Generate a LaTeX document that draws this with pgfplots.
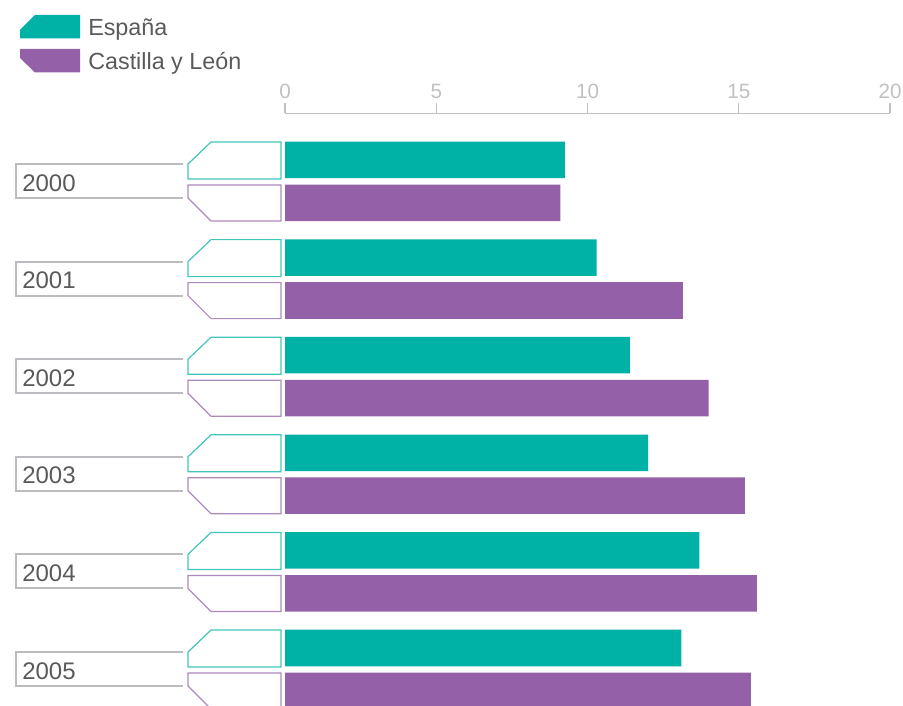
\documentclass[border=0pt]{standalone}
\usepackage{pgfplots}
\usepackage{pgfplotstable}
\pgfplotsset{compat=1.18}
\usepackage{fontspec}
\setmainfont{Liberation Sans}

\definecolor{espana}{RGB}{0,178,166}
\definecolor{cyl}{RGB}{148,97,168}
\definecolor{txt}{RGB}{90,90,90}
\definecolor{axisgray}{RGB}{192,192,192}
\definecolor{boxgray}{RGB}{188,188,192}

% group index, Espana, Castilla y Leon
\pgfplotstableread{
g espana cyl
0 9.25 9.1
1 10.3 13.15
2 11.4 14.0
3 12.0 15.2
4 13.7 15.6
5 13.1 15.4
}\datos

\begin{document}
\begin{tikzpicture}
% page is 903 x 706 px, 1px = 0.75pt
\useasboundingbox (0pt,0pt) rectangle (677.25pt,-529.5pt);
\clip (0pt,0pt) rectangle (677.25pt,-529.5pt);

\begin{axis}[
  at={(213.75pt,-84.975pt)}, anchor=north west,
  scale only axis,
  width=453.75pt, height=444.5pt,
  xmin=0, xmax=20,
  ymin=-5.374, ymax=0.698,
  axis x line=top,
  axis y line=none,
  axis line style={draw=axisgray, line width=1.1pt, -},
  xtick={0,5,10,15,20},
  ytick=\empty,
  tick align=outside,
  major tick length=7.5pt,
  tick style={draw=axisgray, line width=1.1pt},
  xticklabel style={font=\fontsize{15.5}{17}\selectfont, text=axisgray},
  /pgf/number format/assume math mode=true,
]
\addplot[xbar, fill=espana, draw=none, bar width=27.4pt, bar shift=16.1pt]
  table[x=espana, y expr=-\thisrow{g}] {\datos};
\addplot[xbar, fill=cyl, draw=none, bar width=27.4pt, bar shift=-16.1pt]
  table[x=cyl, y expr=-\thisrow{g}] {\datos};
\end{axis}

\begin{scope}[x=0.75pt,y=-0.75pt]
% year boxes and bar outlines
\foreach \i/\yr in {0/2000,1/2001,2/2002,3/2003,4/2004,5/2005} {
  \pgfmathsetmacro\c{181.5+97.6*\i}
  \draw[boxgray, line width=1.6pt] (183,\c-17.5) -- (16,\c-17.5) -- (16,\c+16.5) -- (183,\c+16.5);
  \node[anchor=base west, text=txt, font=\fontsize{18}{20}\selectfont, inner sep=0pt] at (22,\c+9.5) {\yr};
  \draw[espana!75, line width=0.9pt] (281,\c-39.5) -- (211,\c-39.5) -- (188,\c-17.5) -- (188,\c-2.5) -- (281,\c-2.5) -- cycle;
  \draw[cyl!75, line width=0.9pt] (281,\c+3.5) -- (188,\c+3.5) -- (188,\c+16.5) -- (211,\c+39.5) -- (281,\c+39.5) -- cycle;
}

% legend
\fill[espana] (80,15) -- (35,15) -- (20,30) -- (20,38.5) -- (80,38.5) -- cycle;
\fill[cyl] (80,49) -- (20,49) -- (20,58) -- (35,72.5) -- (80,72.5) -- cycle;
\node[anchor=base west, text=txt, font=\fontsize{17.5}{20}\selectfont, inner sep=0pt] at (88,35.5) {España};
\node[anchor=base west, text=txt, font=\fontsize{17.5}{20}\selectfont, inner sep=0pt] at (88,70) {Castilla y León};
\end{scope}
\end{tikzpicture}
\end{document}
